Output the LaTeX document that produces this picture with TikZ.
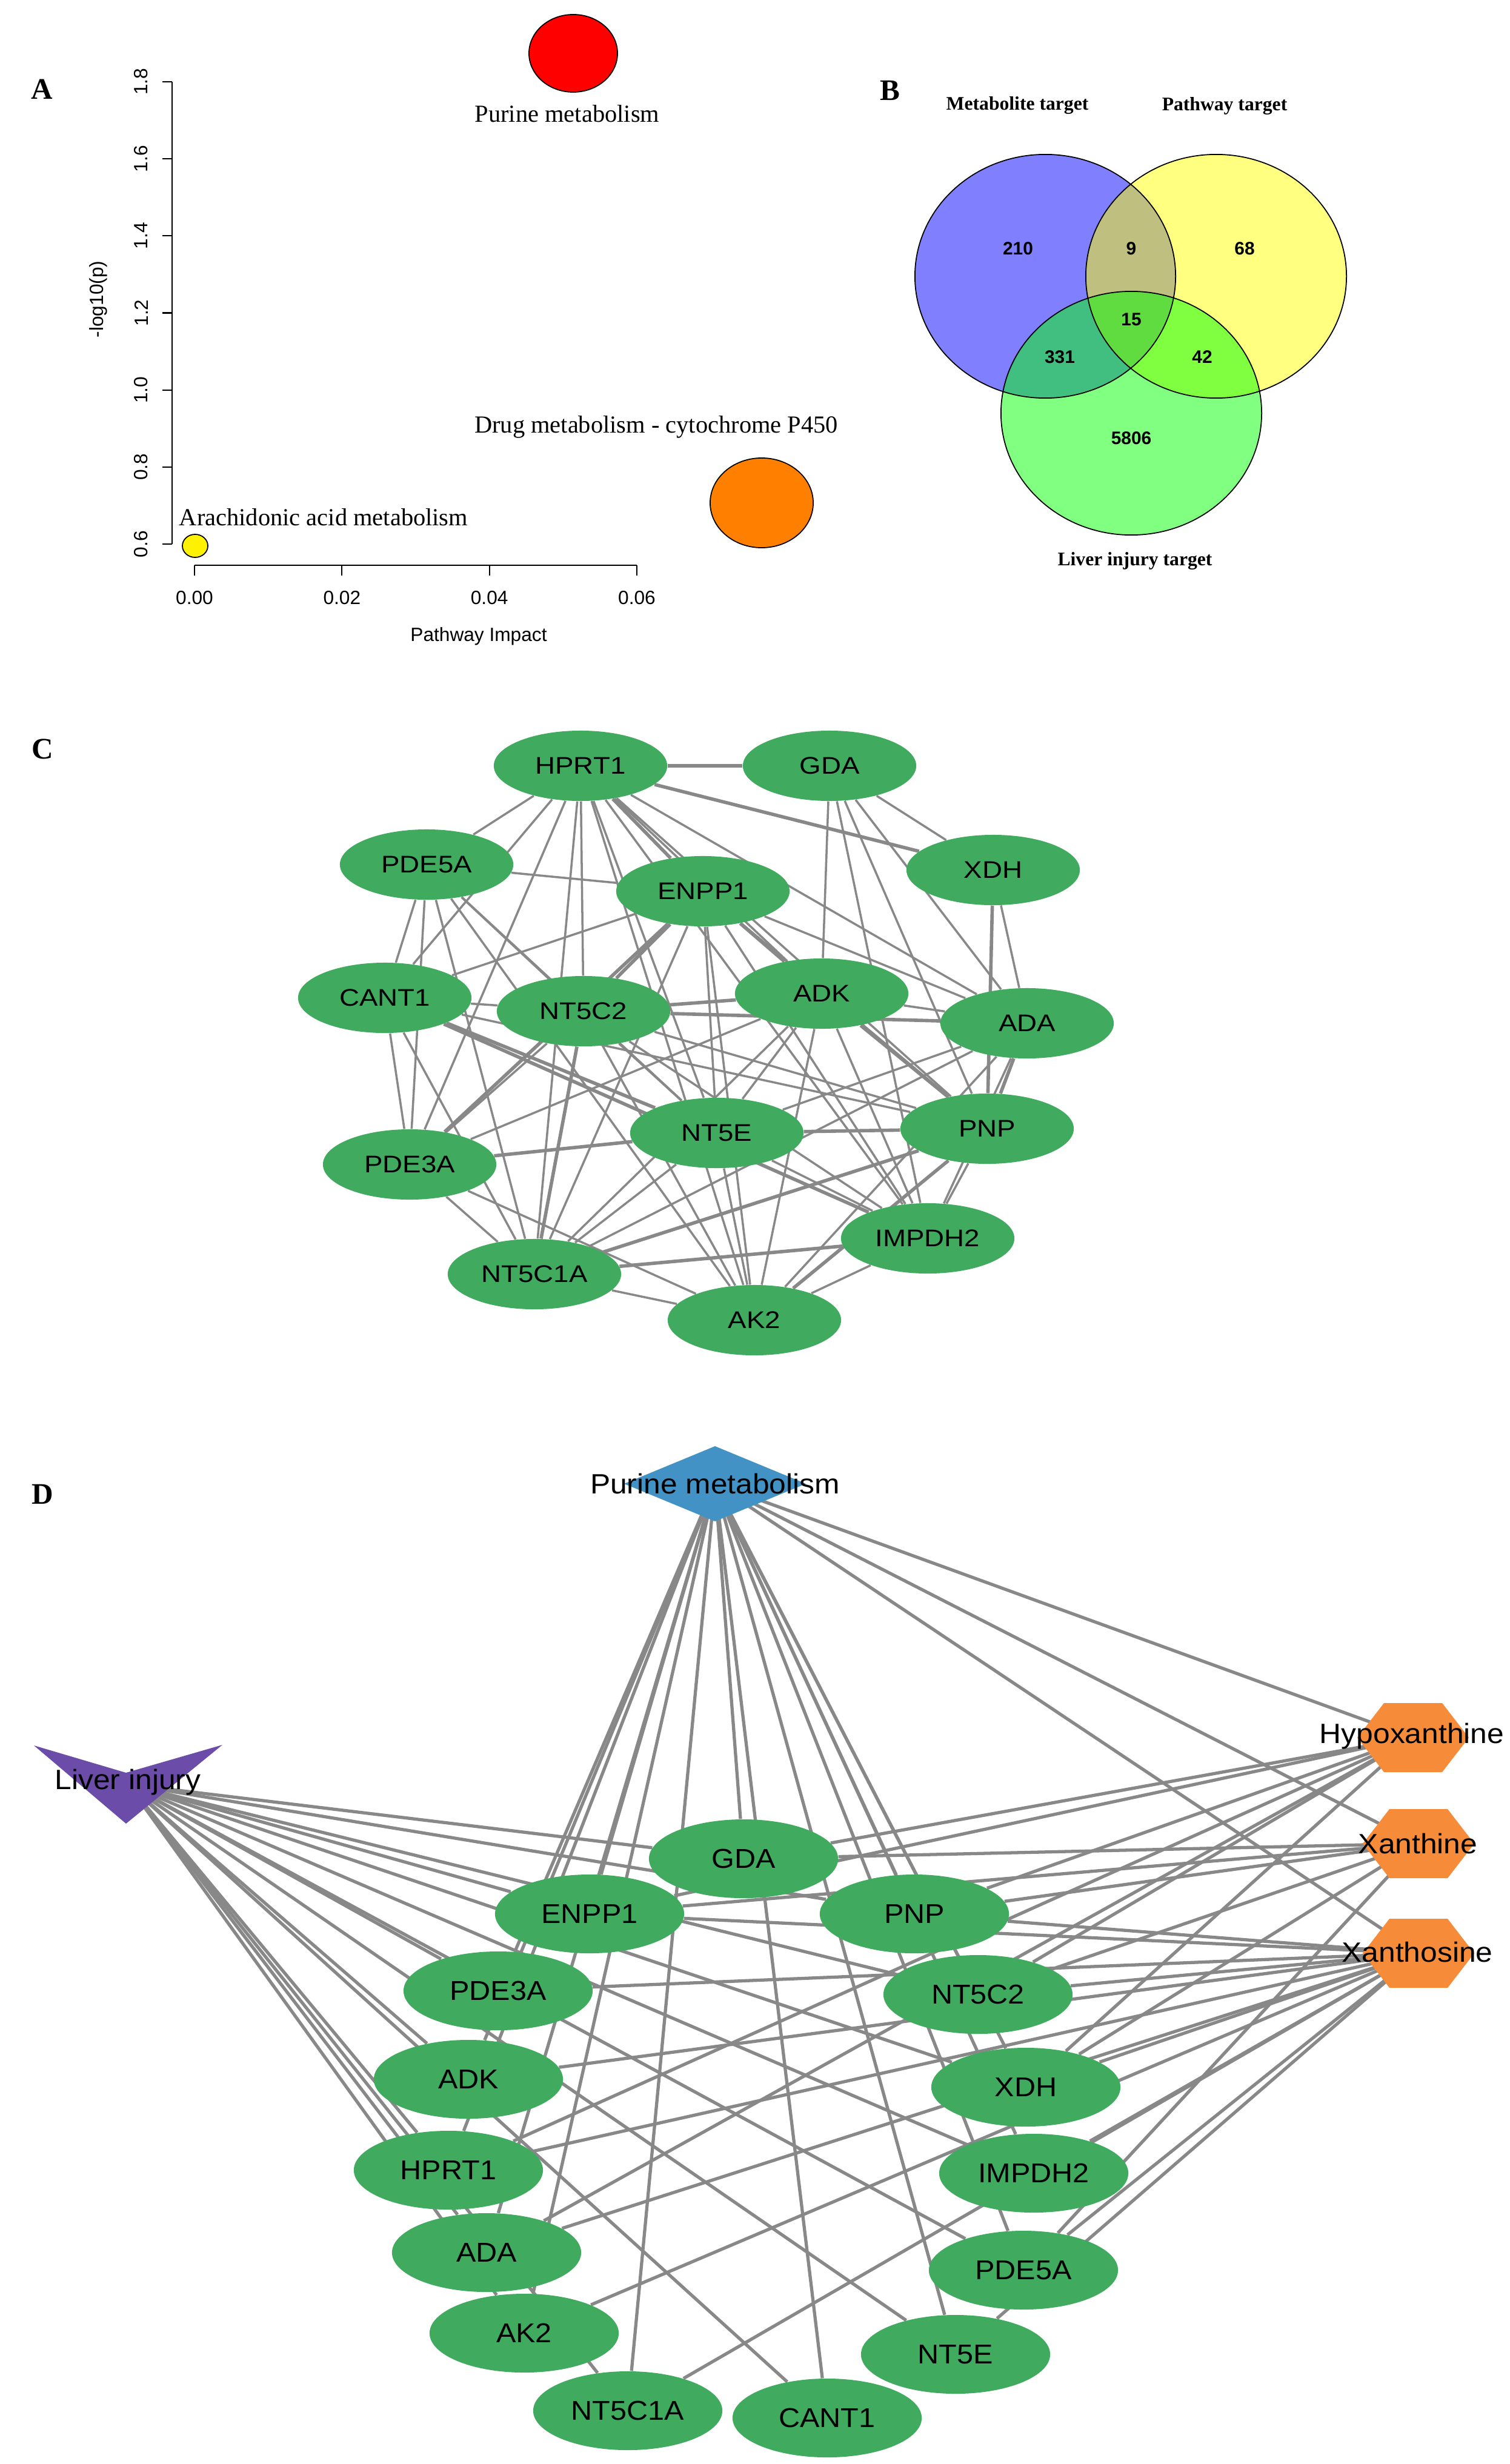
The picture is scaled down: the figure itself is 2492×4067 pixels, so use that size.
\documentclass[tikz,border=0pt]{standalone}
\usepackage{fontspec}
\setmainfont{Liberation Serif}
\setsansfont{Liberation Sans}
\newfontfamily\cfont[FakeStretch=1.15]{Liberation Sans}
\newfontfamily\dfont[FakeStretch=1.08]{Liberation Sans}
\usetikzlibrary{shapes.geometric}
\pgfdeclarelayer{bg}
\pgfdeclarelayer{edges}
\pgfsetlayers{bg,edges,main}
\definecolor{ngreen}{RGB}{64,170,94}
\definecolor{egray}{RGB}{136,136,136}
\definecolor{pmblue}{RGB}{66,146,198}
\definecolor{livc}{RGB}{107,76,168}
\definecolor{morange}{RGB}{246,139,58}
\definecolor{aorange}{RGB}{255,128,0}
\definecolor{vblue}{RGB}{128,128,255}
\definecolor{vyellow}{RGB}{255,255,128}
\definecolor{vgreen}{RGB}{128,255,128}
\definecolor{vby}{RGB}{191,191,128}
\definecolor{vbg}{RGB}{64,191,128}
\definecolor{vyg}{RGB}{128,255,64}
\definecolor{vall}{RGB}{96,220,64}
\def\vrx{2.15cm}
\def\vry{2.01cm}
\begin{document}
\begin{tikzpicture}[x=0.01cm,y=-0.01cm,
  panel/.style={font=\fontsize{14}{16}\selectfont\bfseries, inner sep=0pt},
  aser/.style={font=\fontsize{11.5}{13}\selectfont, inner sep=0pt},
  atick/.style={font=\sffamily\fontsize{9}{10}\selectfont, inner sep=0pt},
  axisline/.style={line width=0.6pt, black},
  vlab/.style={font=\fontsize{9}{10}\selectfont\bfseries, inner sep=0pt},
  vnum/.style={font=\sffamily\bfseries\fontsize{8.5}{9}\selectfont, inner sep=0pt},
  vline/.style={black, line width=0.5pt},
  cnode/.style={ellipse, fill=ngreen, minimum width=2.86cm, minimum height=1.16cm, inner sep=0pt, font=\cfont\fontsize{11.3}{13}\selectfont},
  dnode/.style={ellipse, fill=ngreen, minimum width=3.12cm, minimum height=1.30cm, inner sep=0pt, font=\dfont\fontsize{12.8}{14}\selectfont},
  mlab/.style={font=\dfont\fontsize{13.1}{15}\selectfont, inner sep=0pt},
  cedge/.style={draw=egray, line width=1.0pt},
  cthick/.style={draw=egray, line width=1.6pt},
  dedge/.style={draw=egray, line width=1.5pt}
]
\useasboundingbox (0,0) rectangle (2492,4067);
\begin{pgfonlayer}{bg}
\fill[white] (0,0) rectangle (2492,4067);
\end{pgfonlayer}

% ---------------- Panel A ----------------
\node[panel] (pA) at (69,147) {A};
\draw[axisline] (284,135) -- (284,898);
\foreach \i/\l in {0/1.8,1/1.6,2/1.4,3/1.2,4/1.0,5/0.8,6/0.6}{
  \draw[axisline] (268,135+\i*127.17) -- (284,135+\i*127.17);
  \node[atick, rotate=90] at (233,135+\i*127.17) {\l};
}
\node[atick, rotate=90] (ylab) at (162,494) {-log10(p)};
\draw[axisline] (321,933) -- (1051,933);
\foreach \i/\l in {0/0.00,1/0.02,2/0.04,3/0.06}{
  \draw[axisline] (321+\i*243.33,933) -- (321+\i*243.33,950);
  \node[atick] at (321+\i*243.33,987) {\l};
}
\node[atick] (xlab) at (790,1050) {Pathway Impact};
\filldraw[fill=red, draw=black, line width=0.5pt] (946,88) ellipse [x radius=0.73cm, y radius=0.64cm];
\filldraw[fill=aorange, draw=black, line width=0.5pt] (1257,830) ellipse [x radius=0.85cm, y radius=0.74cm];
\filldraw[fill=yellow, draw=black, line width=0.5pt] (322,901) ellipse [x radius=0.21cm, y radius=0.19cm];
\node[aser] (lpur) at (936,188) {Purine metabolism};
\node[aser] (ldrug) at (1083,705) {Drug metabolism - cytochrome P450};
\node[aser] (lara) at (534,854) {Arachidonic acid metabolism};

% ---------------- Panel B ----------------
\node[panel] (pB) at (1469,149) {B};
\coordinate (vb) at (1725,456);
\coordinate (vy) at (2007,456);
\coordinate (vg) at (1867,682);
\fill[vblue] (vb) ellipse [x radius=\vrx, y radius=\vry];
\fill[vyellow] (vy) ellipse [x radius=\vrx, y radius=\vry];
\fill[vgreen] (vg) ellipse [x radius=\vrx, y radius=\vry];
\begin{scope}
  \clip (vb) ellipse [x radius=\vrx, y radius=\vry];
  \fill[vby] (vy) ellipse [x radius=\vrx, y radius=\vry];
\end{scope}
\begin{scope}
  \clip (vb) ellipse [x radius=\vrx, y radius=\vry];
  \fill[vbg] (vg) ellipse [x radius=\vrx, y radius=\vry];
\end{scope}
\begin{scope}
  \clip (vy) ellipse [x radius=\vrx, y radius=\vry];
  \fill[vyg] (vg) ellipse [x radius=\vrx, y radius=\vry];
\end{scope}
\begin{scope}
  \clip (vb) ellipse [x radius=\vrx, y radius=\vry];
  \clip (vy) ellipse [x radius=\vrx, y radius=\vry];
  \fill[vall] (vg) ellipse [x radius=\vrx, y radius=\vry];
\end{scope}
\draw[vline] (vb) ellipse [x radius=\vrx, y radius=\vry];
\draw[vline] (vy) ellipse [x radius=\vrx, y radius=\vry];
\draw[vline] (vg) ellipse [x radius=\vrx, y radius=\vry];
\node[vnum] (n210) at (1680,410) {210};
\node[vnum] (n9) at (1867,410) {9};
\node[vnum] (n68) at (2054,410) {68};
\node[vnum] (n15) at (1867,527) {15};
\node[vnum] (n331) at (1749,589) {331};
\node[vnum] (n42) at (1984,589) {42};
\node[vnum] (n5806) at (1867,723) {5806};
\node[vlab] (lmet) at (1679,174) {Metabolite target};
\node[vlab] (lpath) at (2021,175) {Pathway target};
\node[vlab] (lliv) at (1873,926) {Liver injury target};

% ---------------- Panel C ----------------
\node[panel] (pC) at (70,1236) {C};
\node[cnode] (cHPRT1) at (958,1264) {HPRT1};
\node[cnode] (cGDA) at (1369,1264) {GDA};
\node[cnode] (cPDE5A) at (704,1427) {PDE5A};
\node[cnode] (cENPP1) at (1160,1471) {ENPP1};
\node[cnode] (cXDH) at (1639,1436) {XDH};
\node[cnode] (cCANT1) at (635,1647) {CANT1};
\node[cnode] (cNT5C2) at (963,1669) {NT5C2};
\node[cnode] (cADK) at (1356,1640) {ADK};
\node[cnode] (cADA) at (1695,1689) {ADA};
\node[cnode] (cNT5E) at (1183,1870) {NT5E};
\node[cnode] (cPNP) at (1629,1863) {PNP};
\node[cnode] (cPDE3A) at (676,1922) {PDE3A};
\node[cnode] (cIMPDH2) at (1531,2044) {IMPDH2};
\node[cnode] (cNT5C1A) at (882,2103) {NT5C1A};
\node[cnode] (cAK2) at (1245,2179) {AK2};
\begin{pgfonlayer}{edges}
\foreach \a/\b in {HPRT1/PDE5A, HPRT1/CANT1, HPRT1/PDE3A, HPRT1/NT5C2, HPRT1/NT5C1A, HPRT1/NT5E, HPRT1/ADK, HPRT1/ADA, HPRT1/PNP, HPRT1/IMPDH2, HPRT1/AK2,
  GDA/ADK, GDA/XDH, GDA/ADA, GDA/PNP, GDA/IMPDH2,
  PDE5A/ENPP1, PDE5A/CANT1, PDE5A/PDE3A, PDE5A/NT5C2, PDE5A/NT5C1A, PDE5A/NT5E, PDE5A/AK2,
  ENPP1/CANT1, ENPP1/NT5E, ENPP1/NT5C1A, ENPP1/PNP, ENPP1/IMPDH2, ENPP1/AK2, ENPP1/ADA,
  XDH/ADA, CANT1/NT5C2, CANT1/PDE3A, CANT1/NT5C1A, CANT1/PNP,
  NT5C2/NT5E, NT5C2/PNP, NT5C2/PDE3A, NT5C2/AK2, NT5C2/IMPDH2,
  ADK/ADA, ADK/NT5E, ADK/PDE3A, ADK/NT5C1A, ADK/AK2, ADK/IMPDH2,
  ADA/NT5E, ADA/NT5C1A, ADA/IMPDH2, ADA/AK2,
  NT5E/NT5C1A, NT5E/AK2, NT5E/IMPDH2, PNP/IMPDH2,
  PDE3A/NT5C1A, PDE3A/AK2, IMPDH2/AK2, NT5C1A/AK2}
  \draw[cedge] (c\a) -- (c\b);
\foreach \a/\b in {HPRT1/GDA, HPRT1/ENPP1, HPRT1/XDH, ENPP1/ADK, ENPP1/NT5C2, ENPP1/PDE3A, NT5C2/ADA, NT5C2/ADK, CANT1/NT5E, CANT1/IMPDH2, NT5E/PNP, NT5C1A/IMPDH2, NT5C1A/PNP, PNP/AK2, ADK/PNP, ADA/PNP, NT5C2/NT5C1A, PDE3A/NT5E, XDH/PNP}
  \draw[cthick] (c\a) -- (c\b);
\end{pgfonlayer}

% ---------------- Panel D ----------------
\node[panel] (pD) at (70,2466) {D};
\coordinate (PM) at (1180,2449);
\coordinate (LI) at (211,2945);
\coordinate (Hx) at (2332,2868);
\coordinate (Xa) at (2341,3043);
\coordinate (Xs) at (2341,3224);
\node[dnode] (dGDA) at (1227,3068) {GDA};
\node[dnode] (dENPP1) at (973,3159) {ENPP1};
\node[dnode] (dPNP) at (1509,3159) {PNP};
\node[dnode] (dPDE3A) at (822,3286) {PDE3A};
\node[dnode] (dNT5C2) at (1614,3292) {NT5C2};
\node[dnode] (dADK) at (773,3432) {ADK};
\node[dnode] (dXDH) at (1693,3445) {XDH};
\node[dnode] (dHPRT1) at (740,3582) {HPRT1};
\node[dnode] (dIMPDH2) at (1706,3587) {IMPDH2};
\node[dnode] (dADA) at (803,3718) {ADA};
\node[dnode] (dPDE5A) at (1689,3747) {PDE5A};
\node[dnode] (dAK2) at (865,3851) {AK2};
\node[dnode] (dNT5E) at (1577,3886) {NT5E};
\node[dnode] (dNT5C1A) at (1036,3979) {NT5C1A};
\node[dnode] (dCANT1) at (1365,3991) {CANT1};
\begin{pgfonlayer}{edges}
\foreach \g in {GDA,ENPP1,PNP,PDE3A,NT5C2,ADK,XDH,HPRT1,IMPDH2,ADA,PDE5A,AK2,NT5E,NT5C1A,CANT1}{
  \draw[dedge] (PM) -- (d\g);
  \draw[dedge] (LI) -- (d\g);
}
\draw[dedge] (PM) -- (Hx);
\draw[dedge] (PM) -- (Xa);
\draw[dedge] (PM) -- (Xs);
\foreach \g in {GDA,ENPP1,PNP,XDH,HPRT1,NT5C2,ADA}
  \draw[dedge] (Hx) -- (d\g);
\foreach \g in {GDA,ENPP1,PNP,XDH,NT5C2,PDE5A}
  \draw[dedge] (Xa) -- (d\g);
\foreach \g in {PNP,ENPP1,NT5C2,XDH,IMPDH2,PDE5A,NT5E,HPRT1,ADK,ADA,AK2,NT5C1A,PDE3A}
  \draw[dedge] (Xs) -- (d\g);
\end{pgfonlayer}
\fill[pmblue, shift={(PM)}] (0,-62) -- (150,0) -- (0,62) -- (-150,0) -- cycle;
\node[mlab] (tPM) at (1180,2449) {Purine metabolism};
\fill[livc, shift={(LI)}] (-155,-64) -- (-3,-19) -- (156,-65) -- (-3,65) -- cycle;
\node[mlab] (tLI) at (211,2942) {Liver injury};
\foreach \c in {Hx,Xa,Xs}
  \fill[morange, shift={(\c)}] (-92,0) -- (-48,-57) -- (48,-57) -- (92,0) -- (48,57) -- (-48,57) -- cycle;
\node[mlab] (tHx) at (2330,2866) {Hypoxanthine};
\node[mlab] (tXa) at (2340,3043) {Xanthine};
\node[mlab] (tXs) at (2339,3222) {Xanthosine};
\end{tikzpicture}
\end{document}
